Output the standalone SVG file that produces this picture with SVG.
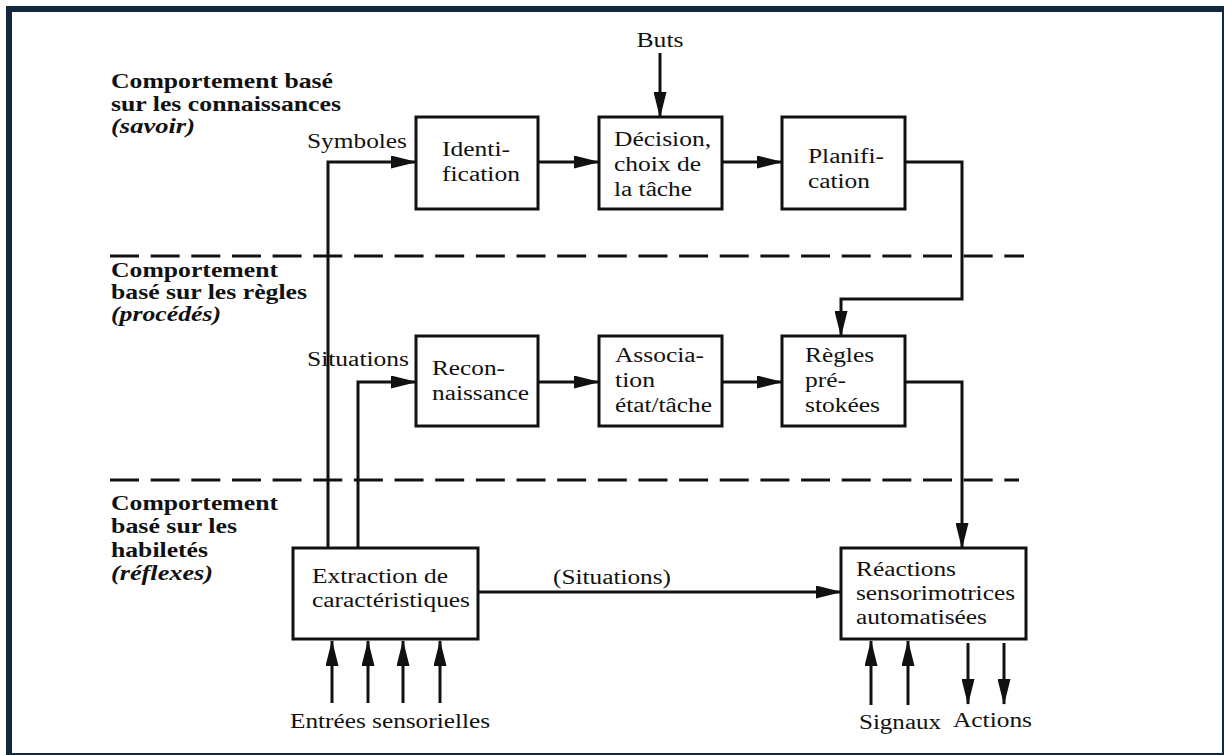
<svg xmlns="http://www.w3.org/2000/svg" width="1224" height="755" viewBox="0 0 1224 755">
<style>
.t{font-family:'Liberation Serif','Times New Roman',serif;font-size:20px;fill:#111;}
.b{font-family:'Liberation Serif','Times New Roman',serif;font-size:21px;font-weight:bold;fill:#111;}
.bi{font-family:'Liberation Serif','Times New Roman',serif;font-size:21px;font-weight:bold;font-style:italic;fill:#111;}
.box{fill:#fff;stroke:#111;stroke-width:3;}
.arr{fill:none;stroke:#111;stroke-width:3;marker-end:url(#ah);}
.dash{fill:none;stroke:#111;stroke-width:3;stroke-dasharray:29 11.65;}
</style>
<defs>
<marker id="ah" markerUnits="userSpaceOnUse" markerWidth="26" markerHeight="13" refX="25" refY="6.5" orient="auto">
<path d="M0,0 L26,6.5 L0,13 z" fill="#111"/>
</marker>
</defs>
<rect width="1224" height="755" fill="#fff"/>
<g id="frame" fill="#13273f">
<rect x="6" y="6" width="1218" height="6"/>
<rect x="6" y="6" width="6" height="749"/>
<rect x="1222" y="6" width="2" height="749"/>
<rect x="6" y="753" width="1218" height="2"/>
</g>
<g id="levels">
<text class="b" x="111" y="88" textLength="222" lengthAdjust="spacingAndGlyphs">Comportement basé</text>
<text class="b" x="111" y="111" textLength="230" lengthAdjust="spacingAndGlyphs">sur les connaissances</text>
<text class="bi" x="111" y="133" textLength="84" lengthAdjust="spacingAndGlyphs">(savoir)</text>
<text class="b" x="111" y="277" textLength="167" lengthAdjust="spacingAndGlyphs">Comportement</text>
<text class="b" x="111" y="299" textLength="196" lengthAdjust="spacingAndGlyphs">basé sur les règles</text>
<text class="bi" x="111" y="321" textLength="110" lengthAdjust="spacingAndGlyphs">(procédés)</text>
<text class="b" x="111" y="510" textLength="167" lengthAdjust="spacingAndGlyphs">Comportement</text>
<text class="b" x="111" y="533" textLength="126" lengthAdjust="spacingAndGlyphs">basé sur les</text>
<text class="b" x="111" y="557" textLength="97" lengthAdjust="spacingAndGlyphs">habiletés</text>
<text class="bi" x="111" y="580" textLength="102" lengthAdjust="spacingAndGlyphs">(réflexes)</text>
<line class="dash" x1="110" y1="256" x2="1024" y2="256"/>
<line class="dash" x1="110" y1="480" x2="1019" y2="480"/>
</g>
<g id="connectors">
<line class="arr" x1="660" y1="53" x2="660" y2="117"/>
<polyline class="arr" points="328,548 328,162 416,162"/>
<line class="arr" x1="538" y1="162" x2="599" y2="162"/>
<line class="arr" x1="722" y1="162" x2="782" y2="162"/>
<polyline class="arr" points="905,162 962,162 962,299 841,299 841,336"/>
<polyline class="arr" points="358,548 358,382 416,382"/>
<line class="arr" x1="538" y1="382" x2="599" y2="382"/>
<line class="arr" x1="722" y1="382" x2="782" y2="382"/>
<polyline class="arr" points="905,382 962,382 962,548"/>
<line class="arr" x1="478" y1="592" x2="841" y2="592"/>
<line class="arr" x1="332" y1="703" x2="332" y2="641"/>
<line class="arr" x1="368" y1="703" x2="368" y2="641"/>
<line class="arr" x1="403" y1="703" x2="403" y2="641"/>
<line class="arr" x1="440" y1="703" x2="440" y2="641"/>
<line class="arr" x1="871" y1="705" x2="871" y2="641"/>
<line class="arr" x1="908" y1="705" x2="908" y2="641"/>
<line class="arr" x1="968" y1="643" x2="968" y2="704"/>
<line class="arr" x1="1004" y1="643" x2="1004" y2="704"/>
</g>
<g id="labels">
<text class="t" x="660" y="47" text-anchor="middle" textLength="47" lengthAdjust="spacingAndGlyphs">Buts</text>
<text class="t" x="307" y="148" textLength="100" lengthAdjust="spacingAndGlyphs">Symboles</text>
<text class="t" x="307" y="366" textLength="102" lengthAdjust="spacingAndGlyphs">Situations</text>
<text class="t" x="553" y="584" textLength="118" lengthAdjust="spacingAndGlyphs">(Situations)</text>
<text class="t" x="290" y="728" textLength="200" lengthAdjust="spacingAndGlyphs">Entrées sensorielles</text>
<text class="t" x="859" y="729" textLength="82" lengthAdjust="spacingAndGlyphs">Signaux</text>
<text class="t" x="953" y="727" textLength="79" lengthAdjust="spacingAndGlyphs">Actions</text>
</g>
<g id="identification">
<rect class="box" x="416" y="117" width="122" height="92"/>
<text class="t" x="442" y="156" textLength="68" lengthAdjust="spacingAndGlyphs">Identi-</text>
<text class="t" x="442" y="181" textLength="78" lengthAdjust="spacingAndGlyphs">fication</text>
</g>
<g id="decision">
<rect class="box" x="599" y="117" width="123" height="92"/>
<text class="t" x="614" y="146" textLength="97" lengthAdjust="spacingAndGlyphs">Décision,</text>
<text class="t" x="614" y="171" textLength="87" lengthAdjust="spacingAndGlyphs">choix de</text>
<text class="t" x="614" y="196" textLength="78" lengthAdjust="spacingAndGlyphs">la tâche</text>
</g>
<g id="planification">
<rect class="box" x="782" y="117" width="123" height="92"/>
<text class="t" x="808" y="163" textLength="76" lengthAdjust="spacingAndGlyphs">Planifi-</text>
<text class="t" x="808" y="188" textLength="62" lengthAdjust="spacingAndGlyphs">cation</text>
</g>
<g id="reconnaissance">
<rect class="box" x="416" y="336" width="122" height="90"/>
<text class="t" x="432" y="375" textLength="73" lengthAdjust="spacingAndGlyphs">Recon-</text>
<text class="t" x="432" y="400" textLength="97" lengthAdjust="spacingAndGlyphs">naissance</text>
</g>
<g id="association">
<rect class="box" x="599" y="336" width="123" height="90"/>
<text class="t" x="615" y="362" textLength="89" lengthAdjust="spacingAndGlyphs">Associa-</text>
<text class="t" x="615" y="387" textLength="40" lengthAdjust="spacingAndGlyphs">tion</text>
<text class="t" x="615" y="412" textLength="97" lengthAdjust="spacingAndGlyphs">état/tâche</text>
</g>
<g id="regles">
<rect class="box" x="782" y="336" width="123" height="90"/>
<text class="t" x="805" y="362" textLength="69" lengthAdjust="spacingAndGlyphs">Règles</text>
<text class="t" x="805" y="387" textLength="41" lengthAdjust="spacingAndGlyphs">pré-</text>
<text class="t" x="805" y="412" textLength="75" lengthAdjust="spacingAndGlyphs">stokées</text>
</g>
<g id="extraction">
<rect class="box" x="293" y="548" width="185" height="91"/>
<text class="t" x="312" y="583" textLength="136" lengthAdjust="spacingAndGlyphs">Extraction de</text>
<text class="t" x="312" y="607" textLength="158" lengthAdjust="spacingAndGlyphs">caractéristiques</text>
</g>
<g id="reactions">
<rect class="box" x="841" y="548" width="185" height="91"/>
<text class="t" x="856" y="576" textLength="100" lengthAdjust="spacingAndGlyphs">Réactions</text>
<text class="t" x="856" y="600" textLength="159" lengthAdjust="spacingAndGlyphs">sensorimotrices</text>
<text class="t" x="856" y="624" textLength="131" lengthAdjust="spacingAndGlyphs">automatisées</text>
</g>
</svg>
